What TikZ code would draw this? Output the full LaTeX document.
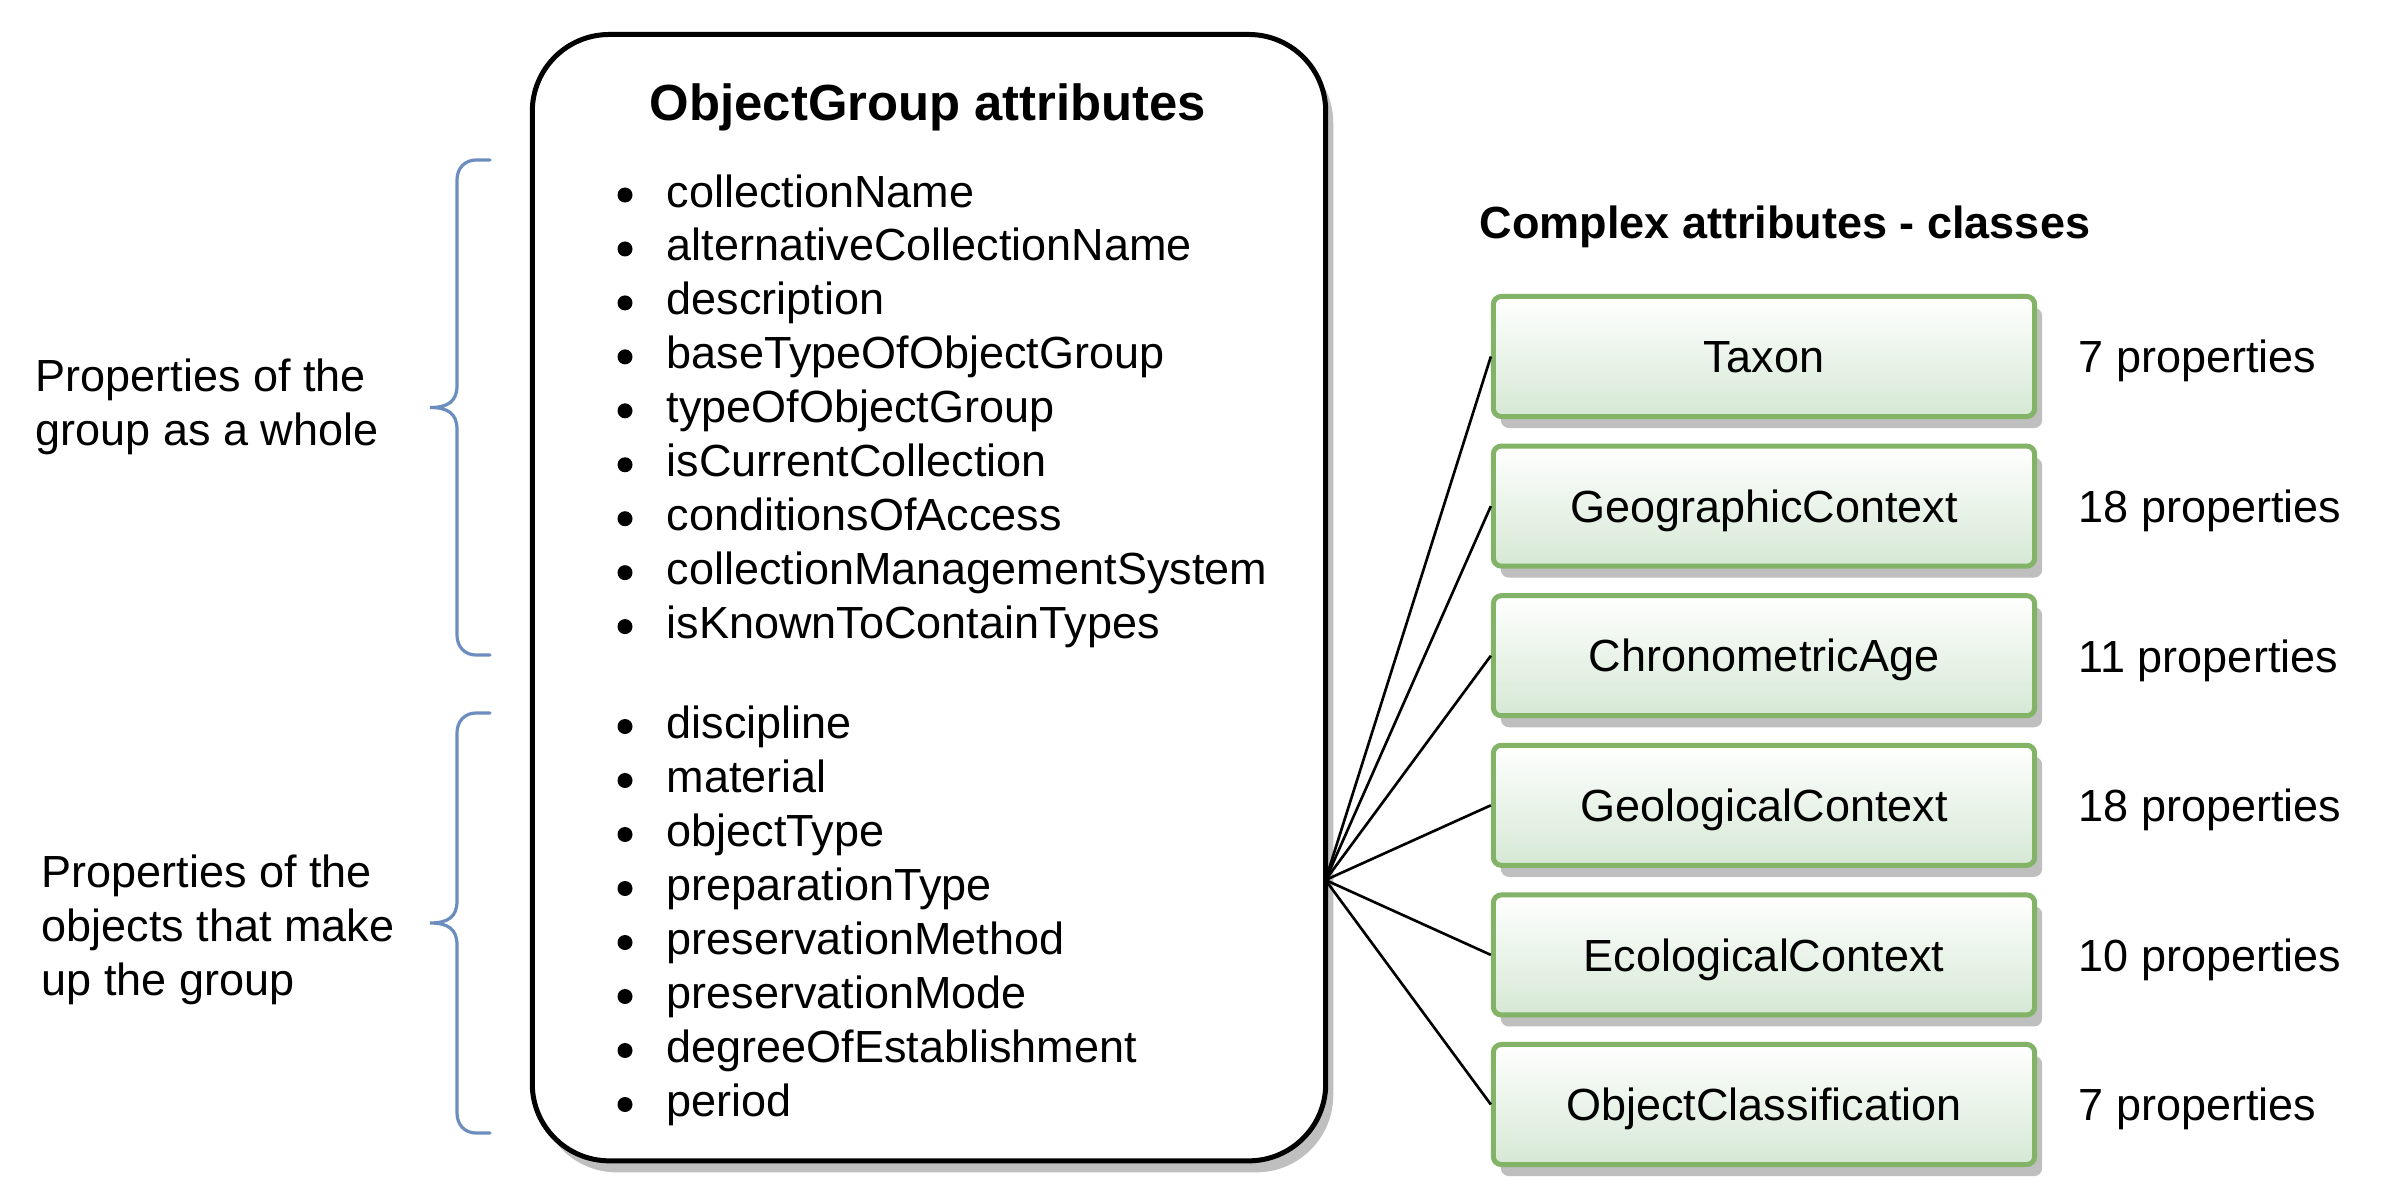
\documentclass[tikz,border=0pt]{standalone}
\usepackage{fontspec}
\setmainfont{Liberation Sans}
\usetikzlibrary{shadows}
\definecolor{grn}{HTML}{82B366}
\definecolor{grnfill}{HTML}{D5E8D4}
\definecolor{brc}{HTML}{6C8EBF}
\newcommand\fsz{\fontsize{12.8pt}{15.36pt}\selectfont}
\newcommand\fszt{\fontsize{14.45pt}{17.3pt}\selectfont}
\newcommand\bracepath[3]{(490,#1) -- (476,#1) .. controls (465,#1) and (457,{#1+8}) .. (457,{#1+20}) -- (457,{#2-22}) .. controls (457,{#2-6}) and (448,#2) .. (430,#2) .. controls (448,#2) and (457,{#2+6}) .. (457,{#2+22}) -- (457,{#3-20}) .. controls (457,{#3-8}) and (465,#3) .. (476,#3) -- (490,#3)}
\begin{document}
\begin{tikzpicture}[x=0.01cm,y=-0.01cm,
  txt/.style={inner sep=0pt, anchor=base west, font=\fsz},
  shd/.style={drop shadow={shadow xshift=0.075cm, shadow yshift=-0.115cm, fill=black!25, opacity=1}},
  mainbox/.style={draw=black, line width=0.05cm, rounded corners=0.77cm, fill=white,
    minimum width=7.93cm, minimum height=11.257cm, inner sep=0pt, shd},
  classbox/.style={draw=grn, line width=0.05cm, rounded corners=0.08cm, top color=white,
    bottom color=grnfill, minimum width=5.41cm, minimum height=1.2cm, inner sep=0pt,
    font=\fsz, text height=9.17pt, text depth=0pt, shd},
  conn/.style={draw=black, line width=0.75pt},
  bracestyle/.style={draw=brc, line width=0.032cm, line cap=round}]
\fill[white] (0,0) rectangle (2400,1203);
\useasboundingbox (0,0) rectangle (2400,1203);

% main container
\node[mainbox] (main) at (929,597.65) {};
\node[font=\fszt\bfseries, inner sep=0pt, anchor=base] (title) at (928,120.7) {ObjectGroup attributes};

\foreach \t [count=\i from 0] in {collectionName, alternativeCollectionName, description,
  baseTypeOfObjectGroup, typeOfObjectGroup, isCurrentCollection, conditionsOfAccess,
  collectionManagementSystem, isKnownToContainTypes} {
  \node[txt] (ga\i) at (666,{207+53.95*\i}) {\t};
  \fill (625,{195+53.95*\i}) circle[radius=0.075cm];
}
\foreach \t [count=\i from 0] in {discipline, material, objectType, preparationType,
  preservationMethod, preservationMode, degreeOfEstablishment, period} {
  \node[txt] (gb\i) at (666,{738.5+54*\i}) {\t};
  \fill (625,{726.5+54*\i}) circle[radius=0.075cm];
}

% left labels and braces
\node[txt] (l1a) at (35,391) {Properties of the};
\node[txt] (l1b) at (35,445) {group as a whole};
\node[txt] (l2a) at (41,887) {Properties of the};
\node[txt] (l2b) at (41,941) {objects that make};
\node[txt] (l2c) at (41,995) {up the group};
\draw[bracestyle] \bracepath{160}{407.5}{655};
\draw[bracestyle] \bracepath{713}{923}{1133};

% complex attribute classes
\node[txt, font=\fsz\bfseries] (cx) at (1479,238) {Complex attributes - classes};
\coordinate (hub) at (1325.5,880);
\foreach \nm/\pr [count=\i from 0] in {Taxon/7, GeographicContext/18, ChronometricAge/11,
  GeologicalContext/18, EcologicalContext/10, ObjectClassification/7} {
  \node[classbox] (c\i) at (1764,{356.5+149.6*\i}) {\nm};
  \node[txt] (p\i) at (2078,{372.8+149.6*\i}) {\pr\ properties};
  \draw[conn] (hub) -- (c\i.west);
}
\end{tikzpicture}
\end{document}
